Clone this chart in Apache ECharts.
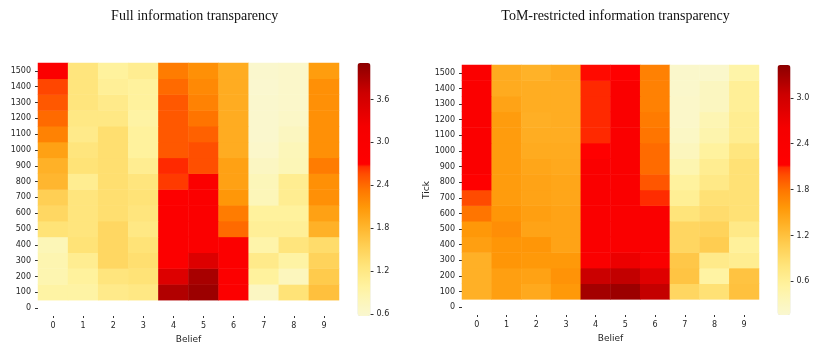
<!DOCTYPE html>
<html><head><meta charset="utf-8">
<script src="https://cdn.jsdelivr.net/npm/echarts@6/dist/echarts.min.js"></script>
<style>html,body{margin:0;padding:0;background:#fff}#c{width:813px;height:342px}</style>
</head><body><div id="c"></div>
<script>
// Categories
const beliefs = ['0','1','2','3','4','5','6','7','8','9'];
const ticks = ['0','100','200','300','400','500','600','700','800','900','1000','1100','1200','1300','1400','1500'];

// Full information transparency: rows = tick 100..1500, columns = belief 0..9
const fullValues = [
  [0.95,0.95,1.15,1.20,3.86,4.00,2.85,0.70,1.30,1.70],
  [0.85,1.00,1.25,1.30,3.50,3.92,2.85,1.00,0.75,1.60],
  [0.85,1.10,1.45,1.35,2.85,3.50,2.85,1.15,0.95,1.50],
  [0.80,1.30,1.45,1.30,2.85,2.90,2.85,0.90,1.25,1.38],
  [1.30,1.25,1.45,1.20,2.85,2.90,2.40,1.05,1.05,1.85],
  [1.45,1.25,1.35,1.25,2.85,2.90,2.30,1.00,1.00,2.00],
  [1.55,1.25,1.35,1.30,2.80,2.90,2.10,0.78,1.10,2.15],
  [1.80,1.10,1.35,1.25,2.62,2.90,2.00,0.78,1.10,2.15],
  [1.85,1.30,1.35,1.10,2.68,2.55,2.00,0.70,0.80,2.30],
  [2.00,1.25,1.35,1.00,2.50,2.55,1.90,0.62,0.78,2.15],
  [2.25,1.15,1.35,1.00,2.50,2.45,1.90,0.60,0.72,2.15],
  [2.40,1.20,1.20,0.95,2.50,2.35,1.90,0.60,0.65,2.15],
  [2.50,1.25,1.15,1.00,2.50,2.25,1.90,0.60,0.62,2.15],
  [2.58,1.25,1.05,1.00,2.40,2.20,1.90,0.58,0.62,2.15],
  [2.85,1.25,1.00,1.10,2.30,2.15,1.90,0.60,0.62,2.05]
];

// ToM-restricted information transparency: rows = tick 100..1500, columns = belief 0..9
const tomValues = [
  [1.35,1.50,1.42,1.56,3.28,3.33,3.09,0.98,0.85,1.20],
  [1.35,1.50,1.48,1.60,3.05,3.10,2.84,1.17,0.52,1.18],
  [1.35,1.58,1.56,1.56,2.35,2.71,2.35,1.14,0.70,0.65],
  [1.50,1.58,1.58,1.47,2.35,2.35,2.35,0.98,1.08,0.58],
  [1.57,1.63,1.47,1.47,2.35,2.35,2.35,0.98,1.02,0.72],
  [1.80,1.58,1.50,1.47,2.35,2.35,2.35,0.81,0.90,0.85],
  [2.00,1.53,1.47,1.44,2.35,2.35,2.10,0.62,0.85,0.85],
  [2.14,1.53,1.47,1.44,2.35,2.35,1.95,0.55,0.72,0.85],
  [2.30,1.53,1.44,1.42,2.35,2.35,1.85,0.42,0.65,0.85],
  [2.30,1.53,1.40,1.40,2.13,2.35,1.85,0.32,0.55,0.78],
  [2.30,1.53,1.38,1.38,2.11,2.35,1.80,0.26,0.45,0.65],
  [2.30,1.53,1.36,1.38,2.11,2.35,1.76,0.22,0.40,0.65],
  [2.30,1.47,1.38,1.38,2.11,2.35,1.72,0.22,0.30,0.60],
  [2.30,1.40,1.38,1.38,2.11,2.35,1.72,0.20,0.30,0.60],
  [2.30,1.40,1.34,1.40,2.12,2.13,1.72,0.20,0.20,0.48]
];

// Colour scale ranges and colourbar tick labels
const fullRange = [0.57, 4.11];
const tomRange = [0.16, 3.43];
const fullBarTicks = [0.6, 1.2, 1.8, 2.4, 3.0, 3.6];
const tomBarTicks = [0.6, 1.2, 1.8, 2.4, 3.0];

// Colormap definition (style)
const cmapStops = [
  [0.00,250,247,208],[0.06,252,246,185],[0.12,255,242,158],[0.20,255,228,122],
  [0.28,255,206,82],[0.36,255,178,40],[0.43,255,152,8],[0.50,255,118,0],
  [0.56,255,78,0],[0.599,255,38,0],[0.60,255,0,0],[0.75,245,0,0],
  [0.88,205,0,0],[1.00,139,0,0]
];
function cmap(t){
  for (let i=1;i<cmapStops.length;i++){
    const a=cmapStops[i-1], b=cmapStops[i];
    if (t<=b[0]){
      const f=(t-a[0])/(b[0]-a[0]);
      const c=[1,2,3].map(k=>Math.round(a[k]+(b[k]-a[k])*f));
      return 'rgb('+c.join(',')+')';
    }
  }
  const l=cmapStops[cmapStops.length-1];
  return 'rgb('+l[1]+','+l[2]+','+l[3]+')';
}
const cmapColors=[];
for(let i=0;i<=400;i++) cmapColors.push(cmap(i/400));

function toData(rows){
  const d=[];
  rows.forEach((row,r)=>row.forEach((v,c)=>d.push([c, r+1, v])));
  return d;
}

const FONT='DejaVu Sans';
const TXT='#262626';
function catX(gi){
  return {type:'category', gridIndex:gi, data:beliefs,
    axisLine:{show:false}, splitLine:{show:false},
    axisTick:{show:true, length:2, alignWithLabel:true, interval:0, lineStyle:{color:'#333'}},
    axisLabel:{fontSize:8, color:TXT, margin:6, fontFamily:FONT, interval:0},
    name:'Belief', nameLocation:'middle', nameGap:17,
    nameTextStyle:{fontSize:9, color:TXT, fontFamily:FONT}};
}
function catY(gi, name){
  const o={type:'category', gridIndex:gi, data:ticks,
    axisLine:{show:false}, splitLine:{show:false},
    axisTick:{show:true, length:3, alignWithLabel:true, interval:0, lineStyle:{color:'#333'}},
    axisLabel:{fontSize:8, color:TXT, margin:7, fontFamily:FONT, interval:0}};
  if(name){ o.name=name; o.nameLocation='middle'; o.nameGap=31;
    o.nameTextStyle={fontSize:9, color:TXT, fontFamily:FONT}; }
  return o;
}
function barY(gi, range, tks){
  return {type:'value', gridIndex:gi, position:'right', min:range[0], max:range[1],
    axisLine:{show:false}, splitLine:{show:false},
    axisTick:{show:true, length:3, customValues:tks, lineStyle:{color:'#333'}},
    axisLabel:{fontSize:8, color:TXT, margin:6, fontFamily:FONT, customValues:tks,
      formatter:v=>Number(v).toFixed(1)}};
}

const chart=echarts.init(document.getElementById('c'), null, {renderer:'canvas'});
chart.setOption({
  animation:false,
  backgroundColor:'#fff',
  title:[
    {text:'Full information transparency', left:194.7, top:9, textAlign:'center', padding:0,
     textStyle:{fontFamily:'Liberation Serif', fontSize:14, fontWeight:'normal', color:'#111'}},
    {text:'ToM-restricted information transparency', left:615.5, top:9, textAlign:'center', padding:0,
     textStyle:{fontFamily:'Liberation Serif', fontSize:14, fontWeight:'normal', color:'#111'}}
  ],
  grid:[
    {left:38, top:63, width:301, height:253, outerBoundsMode:'none', containLabel:false},
    {left:462, top:65, width:297, height:250, outerBoundsMode:'none', containLabel:false},
    {left:357.5, top:63, width:13, height:253, outerBoundsMode:'none', containLabel:false},
    {left:777.5, top:65, width:13, height:250, outerBoundsMode:'none', containLabel:false}
  ],
  xAxis:[catX(0), catX(1),
    {type:'category', gridIndex:2, data:[''], show:false},
    {type:'category', gridIndex:3, data:[''], show:false}],
  yAxis:[catY(0), catY(1,'Tick'), barY(2, fullRange, fullBarTicks), barY(3, tomRange, tomBarTicks)],
  visualMap:[
    {type:'continuous', seriesIndex:0, min:fullRange[0], max:fullRange[1], left:357.5, top:63,
     itemWidth:13, itemHeight:253, padding:0, calculable:false, hoverLink:false, text:null,
     inRange:{color:cmapColors}},
    {type:'continuous', seriesIndex:1, min:tomRange[0], max:tomRange[1], left:777.5, top:65,
     itemWidth:13, itemHeight:250, padding:0, calculable:false, hoverLink:false, text:null,
     inRange:{color:cmapColors}}
  ],
  series:[
    {type:'heatmap', xAxisIndex:0, yAxisIndex:0, data:toData(fullValues), progressive:0,
     emphasis:{disabled:true}},
    {type:'heatmap', xAxisIndex:1, yAxisIndex:1, data:toData(tomValues), progressive:0,
     emphasis:{disabled:true}}
  ]
});
</script></body></html>
